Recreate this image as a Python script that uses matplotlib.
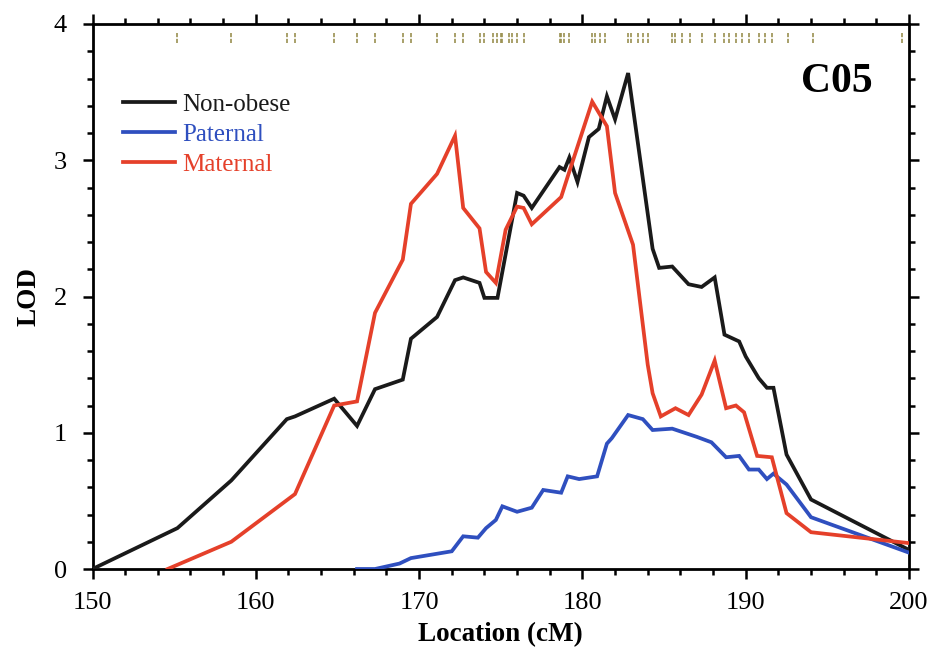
import matplotlib
matplotlib.use("Agg")
import matplotlib.pyplot as plt
from matplotlib.ticker import MultipleLocator

plt.rcParams['font.family'] = ['Liberation Serif', 'DejaVu Serif']

# ---- data ----
nonobese_x = [150.0, 155.2, 158.5, 161.9, 162.4, 164.8, 166.2, 167.3, 169.0, 169.5,
              171.1, 172.2, 172.7, 173.7, 174.0, 174.8, 176.0, 176.4, 176.9, 178.6,
              178.9, 179.2, 179.7, 180.4, 181.0, 181.5, 182.0, 182.8, 184.3, 184.7,
              185.5, 186.5, 187.3, 188.1, 188.7, 189.6, 190.0, 190.8, 191.3, 191.7,
              192.5, 194.0, 200.0]
nonobese_y = [0.00, 0.30, 0.65, 1.10, 1.12, 1.25, 1.05, 1.32, 1.39, 1.69,
              1.85, 2.12, 2.14, 2.10, 1.99, 1.99, 2.76, 2.74, 2.65, 2.95,
              2.93, 3.02, 2.84, 3.17, 3.23, 3.47, 3.30, 3.64, 2.35, 2.21,
              2.22, 2.09, 2.07, 2.14, 1.72, 1.67, 1.56, 1.40, 1.33, 1.33,
              0.84, 0.51, 0.14]

paternal_x = [166.2, 167.3, 168.8, 169.5, 172.0, 172.7, 173.6, 174.1, 174.7, 175.1,
              176.0, 176.9, 177.6, 178.7, 179.1, 179.8, 180.9, 181.5, 181.8, 182.8,
              183.7, 184.3, 185.5, 187.0, 187.9, 188.8, 189.6, 190.2, 190.8, 191.3,
              191.7, 192.5, 194.0, 200.0]
paternal_y = [0.00, 0.00, 0.04, 0.08, 0.13, 0.24, 0.23, 0.30, 0.36, 0.46,
              0.42, 0.45, 0.58, 0.56, 0.68, 0.66, 0.68, 0.92, 0.96, 1.13,
              1.10, 1.02, 1.03, 0.97, 0.93, 0.82, 0.83, 0.73, 0.73, 0.66,
              0.70, 0.62, 0.38, 0.12]

maternal_x = [154.6, 158.5, 162.4, 164.8, 166.2, 167.3, 169.0, 169.5, 171.1, 172.2,
              172.7, 173.7, 174.1, 174.7, 175.3, 176.0, 176.4, 176.9, 178.7, 179.1,
              180.6, 181.5, 182.0, 183.1, 184.0, 184.3, 184.8, 185.7, 186.5, 187.3,
              188.1, 188.8, 189.4, 189.9, 190.7, 191.6, 192.5, 194.0, 200.0]
maternal_y = [0.00, 0.20, 0.55, 1.20, 1.23, 1.88, 2.27, 2.68, 2.90, 3.18,
              2.65, 2.50, 2.18, 2.10, 2.49, 2.66, 2.65, 2.53, 2.73, 2.88,
              3.43, 3.25, 2.76, 2.38, 1.50, 1.29, 1.12, 1.18, 1.13, 1.28,
              1.53, 1.18, 1.20, 1.15, 0.83, 0.82, 0.41, 0.27, 0.19]

markers = [155.2, 158.5, 161.9, 162.4, 164.8, 166.2, 167.3, 169.0, 169.5, 171.1,
           172.2, 172.7, 173.7, 174.0, 174.5, 174.8, 175.0, 175.1, 175.5, 175.7,
           176.0, 176.4, 178.6, 178.7, 178.9, 179.2, 180.6, 180.8, 181.1, 181.4,
           182.8, 183.0, 183.4, 183.7, 184.0, 185.5, 185.7, 186.1, 186.6, 187.3,
           188.1, 188.7, 189.0, 189.4, 189.8, 190.2, 190.8, 191.2, 191.6, 192.6,
           194.1, 199.6]

series_labels = ['Non-obese', 'Paternal', 'Maternal']
series_colors = ['#1a1a1a', '#2f4fbf', '#e5402a']
chrom_label = 'C05'

# ---- figure ----
fig = plt.figure(figsize=(9.32, 6.49), dpi=100)
ax = fig.add_axes([92.5 / 932, 1 - 569 / 649, 816.5 / 932, 545 / 649])

lw = 2.7
ax.plot(nonobese_x, nonobese_y, color=series_colors[0], lw=lw, label=series_labels[0],
        solid_joinstyle='miter', zorder=3)
ax.plot(paternal_x, paternal_y, color=series_colors[1], lw=lw, label=series_labels[1],
        solid_joinstyle='miter', zorder=3)
ax.plot(maternal_x, maternal_y, color=series_colors[2], lw=lw, label=series_labels[2],
        solid_joinstyle='miter', zorder=3)

ax.vlines(markers, 3.86, 3.94, color='#9a9050', lw=1.2, linestyles=(0, (2.5, 1)))

ax.set_xlim(150, 200)
ax.set_ylim(0, 4)
ax.xaxis.set_major_locator(MultipleLocator(10))
ax.xaxis.set_minor_locator(MultipleLocator(2))
ax.yaxis.set_major_locator(MultipleLocator(1))
ax.yaxis.set_minor_locator(MultipleLocator(0.2))

for s in ax.spines.values():
    s.set_linewidth(2.0)

ax.tick_params(which='both', direction='out', top=True, right=True, width=1.8)
ax.tick_params(which='major', length=7.5, labelsize=19)
ax.tick_params(axis='x', which='major', pad=9)
ax.tick_params(axis='y', which='major', pad=11)
ax.tick_params(which='minor', length=4)

ax.set_xlabel('Location (cM)', fontsize=19.5, fontweight='bold', labelpad=6)
ax.set_ylabel('LOD', fontsize=19.5, fontweight='bold', labelpad=9)

leg = ax.legend(loc='upper left', bbox_to_anchor=(0.037, 0.873), frameon=False,
                fontsize=18, handlelength=2.1, handletextpad=0.3,
                labelspacing=0.3, borderpad=0, borderaxespad=0)
for txt, c in zip(leg.get_texts(), series_colors):
    txt.set_color(c)

ax.text(0.911, 0.894, chrom_label, transform=ax.transAxes, fontsize=30,
        fontweight='bold', ha='center', va='center')

fig.savefig('out.png', dpi=100)
